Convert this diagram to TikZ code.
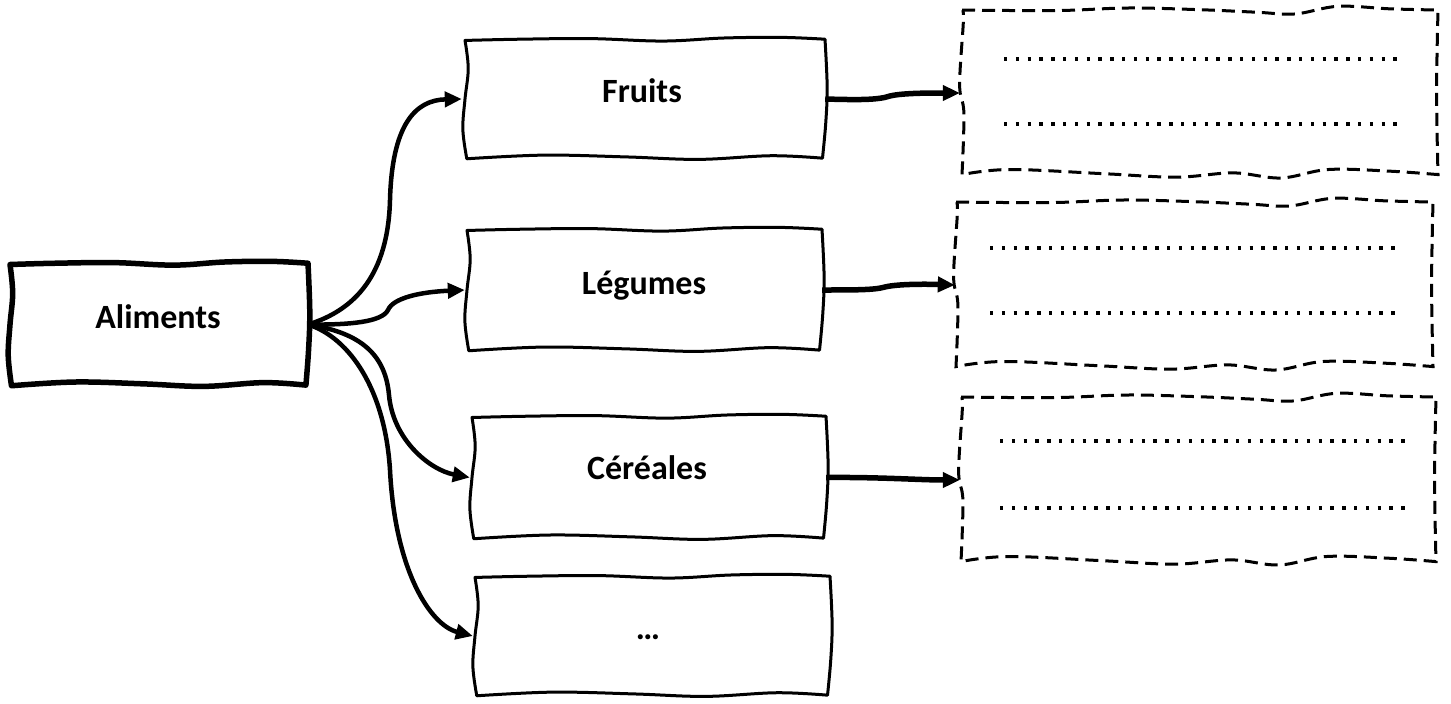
\documentclass[tikz,border=0pt]{standalone}
\usepackage{fontspec}
\setmainfont{Carlito}
\usetikzlibrary{arrows.meta,calc}
\newcommand\wavysolid[5]{%
  \begin{scope}[shift={(#1,#2)},xscale={(#3-#1)/100},yscale={(#4-#2)/100}]
    \draw[#5] plot[smooth,tension=.6] coordinates {(0,2)(15,1)(35,0.5)(55,2.5)(72,0)(88,-0.5)(100,1)}
      -- plot[smooth,tension=.6] coordinates {(100,1)(100.6,40)(100.2,70)(99.3,98.5)}
      -- plot[smooth,tension=.6] coordinates {(99.3,98.5)(85,96.5)(65,99.5)(45,97.5)(22,96)(0.5,99)}
      -- plot[smooth,tension=.6] coordinates {(0.5,99)(-0.6,75)(0,50)(0.9,25)(0,2)} -- cycle;
  \end{scope}}
\newcommand\wavydash[5]{%
  \begin{scope}[shift={(#1,#2)},xscale={(#3-#1)/100},yscale={(#4-#2)/100}]
    \draw[#5] plot[smooth,tension=.6] coordinates {(0,1.2)(20,1.5)(35,0)(50,1)(62,2.5)(70,3.5)(79,-1)(90,0.5)(100,1.2)}
      -- plot[smooth,tension=.6] coordinates {(100,1.2)(99.7,50)(100,98)}
      -- plot[smooth,tension=.6] coordinates {(100,98)(90,96)(77,95)(67,100)(57,97)(45,99.5)(30,97.5)(10,95)(0,98)}
      -- plot[smooth,tension=.6] coordinates {(0,98)(0.4,62)(-0.5,45)(0.3,7)(0,1.2)};
  \end{scope}}
\tikzset{
  box/.style={draw=none,inner sep=0pt},
  lbl/.style={inner sep=0pt,anchor=base,font=\fontsize{34}{40}\selectfont\bfseries},
  thickedge/.style={line width=5.5pt,line join=round},
  thinedge/.style={line width=3pt,line join=round},
  dashedge/.style={line width=3pt,dash pattern=on 13pt off 7pt},
  dotline/.style={line width=3.4pt,dash pattern=on 3.4pt off 8.4pt},
  conn/.style={line width=4.5pt,-{Triangle[length=17pt,width=15pt]}},
  connr/.style={line width=5.5pt,-{Triangle[length=17pt,width=15pt]}},
}
\begin{document}
\begin{tikzpicture}[x=1pt,y=-1pt]
\useasboundingbox (0,0) rectangle (1451,704);
% boxes (invisible nodes carrying anchors)
\node[box,minimum width=298pt,minimum height=125pt] (alim) at (159,324.5) {};
\node[box,minimum width=363pt,minimum height=122pt] (fruits) at (643.5,99) {};
\node[box,minimum width=357pt,minimum height=124pt] (leg) at (643.5,290) {};
\node[box,minimum width=356pt,minimum height=125pt] (cer) at (648,477.5) {};
\node[box,minimum width=357pt,minimum height=122pt] (etc) at (651.5,636) {};
\node[box,minimum width=478pt,minimum height=170pt] (r1) at (1199,93) {};
\node[box,minimum width=478pt,minimum height=170pt] (r2) at (1194,285) {};
\node[box,minimum width=476pt,minimum height=170pt] (r3) at (1198,480) {};
% outlines
\wavysolid{10}{262}{308}{387}{thickedge}
\wavysolid{465}{38}{825}{160}{thinedge}
\wavysolid{467}{228}{822}{352}{thinedge}
\wavysolid{472}{415}{826}{540}{thinedge}
\wavysolid{475}{575}{830}{697}{thinedge}
\wavydash{962}{8}{1438}{178}{dashedge}
\wavydash{956}{200}{1433}{370}{dashedge}
\wavydash{961}{395}{1436}{565}{dashedge}
% labels
\node[lbl] (tA) at (158,328) {Aliments};
\node[lbl] (tF) at (642,102) {Fruits};
\node[lbl] (tL) at (644,294) {Légumes};
\node[lbl] (tC) at (647,479) {Céréales};
\node[lbl] (tE) at (648,639) {…};
% dotted lines
\draw[dotline] (1004,59) -- (1405,59);
\draw[dotline] (1004,124) -- (1405,124);
\draw[dotline] (990,248) -- (1400,248);
\draw[dotline] (990,313) -- (1400,313);
\draw[dotline] (1000,441) -- (1405,441);
\draw[dotline] (1000,508) -- (1405,508);
% connectors from Aliments
\draw[conn] (alim.east) .. controls (355,310) and (388,275) .. (390,200)
  .. controls (392,125) and (415,100) .. (fruits.west);
\draw[conn] (alim.east) .. controls (350,325) and (382,322) .. (388,310)
  .. controls (393,298) and (420,292) .. (leg.west);
\draw[conn] (alim.east) .. controls (355,332) and (385,350) .. (389,395)
  .. controls (393,440) and (430,470) .. (cer.west);
\draw[conn] (alim.east) .. controls (350,338) and (385,390) .. (390,470)
  .. controls (395,570) and (430,625) .. (etc.west);
% connectors to answer boxes
\draw[connr] (fruits.east) .. controls (860,100) and (878,100) .. (890,96)
  .. controls (902,93) and (930,93) .. (r1.west);
\draw[connr] (leg.east) .. controls (855,290) and (875,290) .. (885,287)
  .. controls (897,284) and (925,284) .. (r2.west);
\draw[connr] (cer.east) .. controls (880,477) and (920,480) .. (r3.west);
\end{tikzpicture}
\end{document}
